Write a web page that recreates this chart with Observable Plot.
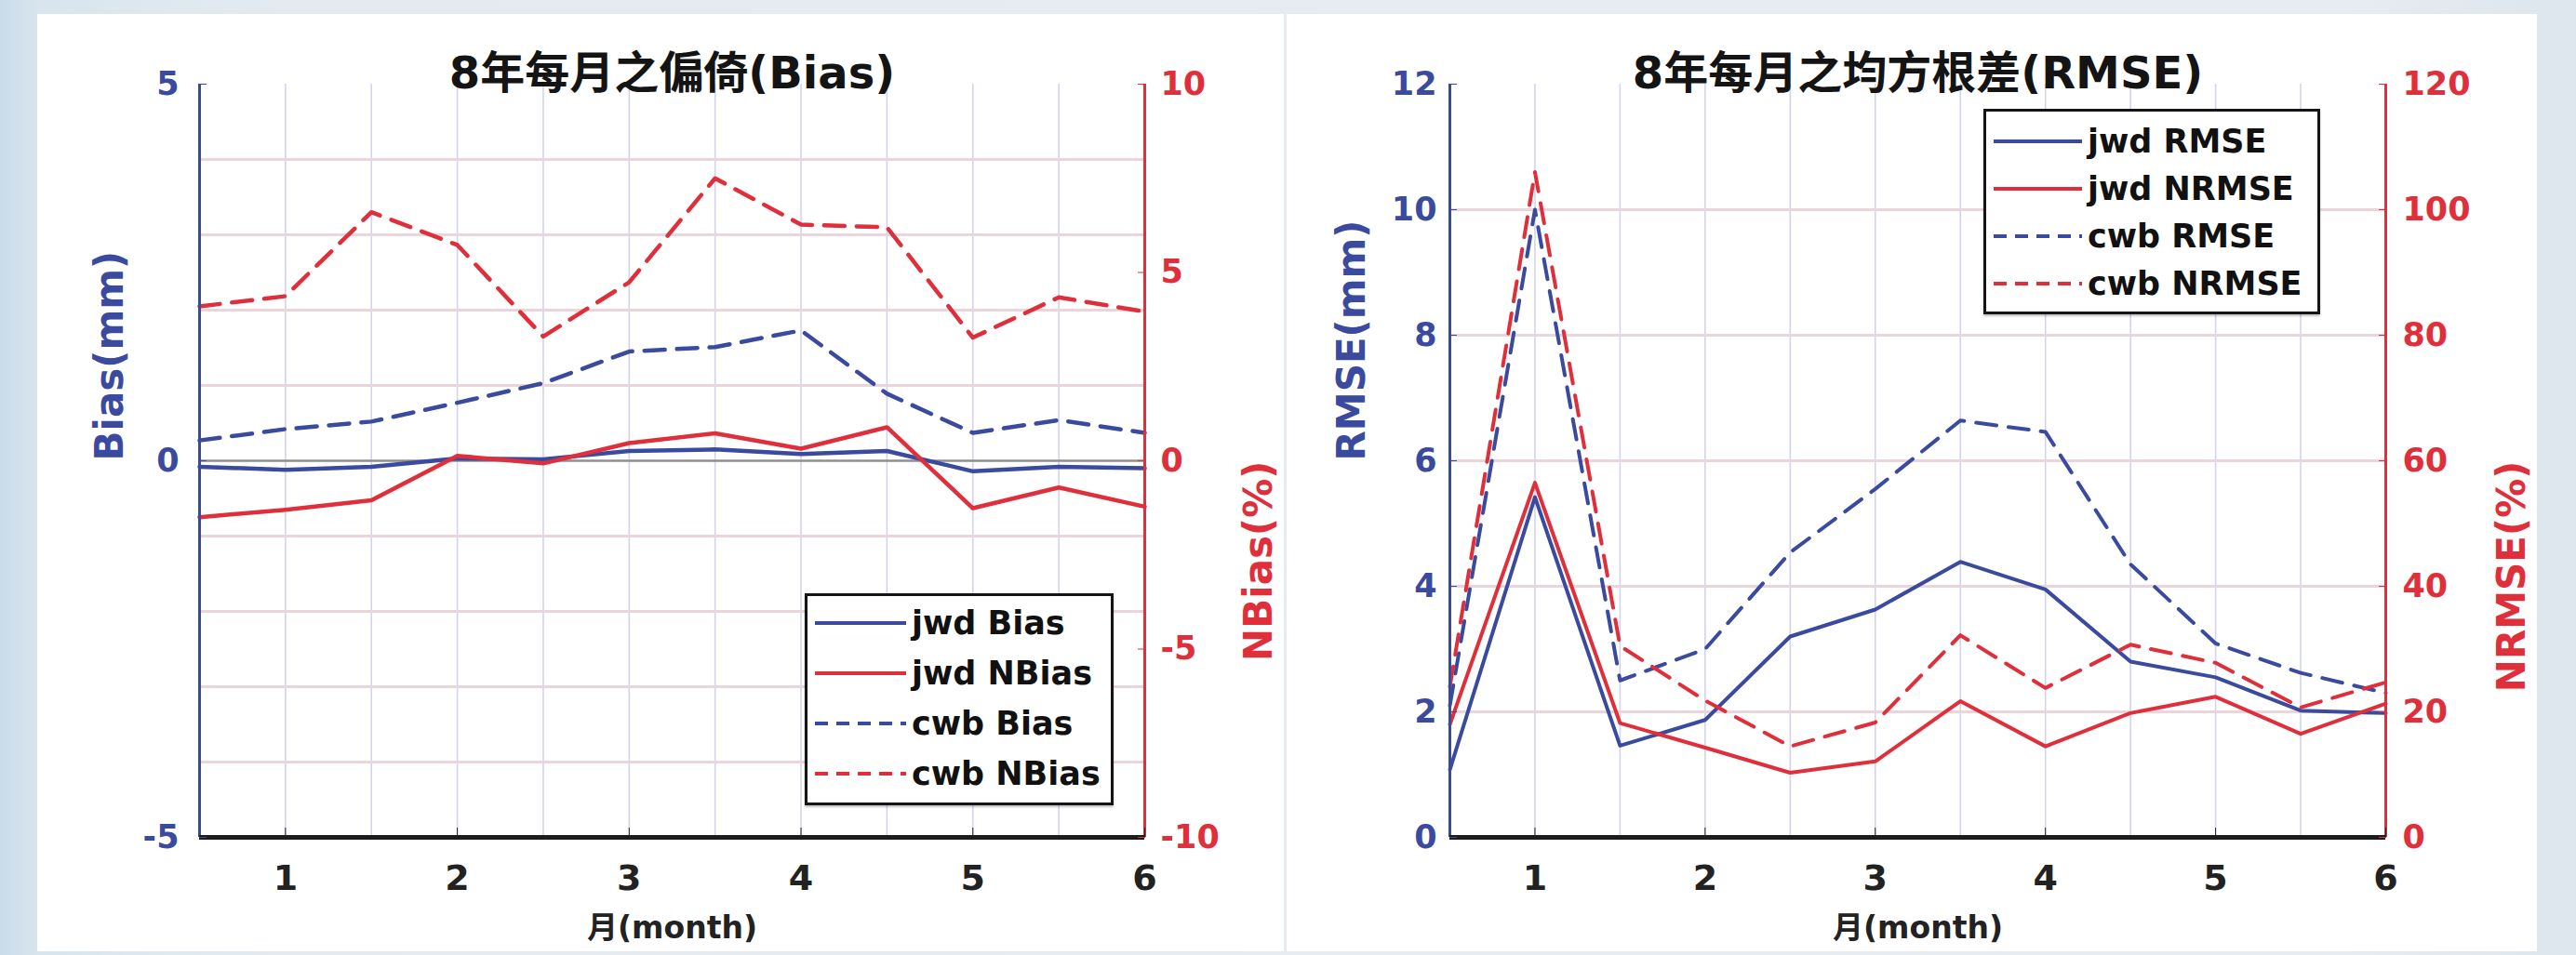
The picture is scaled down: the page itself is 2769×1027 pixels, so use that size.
<!DOCTYPE html>
<html>
<head>
<meta charset="utf-8">
<script src="https://cdn.jsdelivr.net/npm/d3@7"></script>
<script src="https://cdn.jsdelivr.net/npm/@observablehq/plot@0.6"></script>
<style>
html, body { margin: 0; padding: 0; }
body {
  width: 2769px; height: 1027px; position: relative; overflow: hidden;
  background: linear-gradient(90deg, #c9dbe9 0px, #d8e5ee 40px, #e3ebf1 300px, #e6edf2 2500px, #dde6ed 2769px);
  font-family: "DejaVu Sans", "Noto Sans CJK TC", sans-serif; font-weight: bold;
}
.panel { position: absolute; background: #ffffff; top: 15px; height: 1008px; }
.chart { position: absolute; top: 15px; }
.chart svg { max-width: none; }
.legend { position: absolute; border: 3px solid #151515; background: #fff; box-sizing: border-box; box-shadow: 0 2px 2px rgba(0,0,0,0.25); }
.legend .row { position: absolute; left: 8px; display: flex; align-items: center; height: 40px; margin-top: -20px; }
.legend .row span { font-size: 35px; color: #111; margin-left: 6px; white-space: nowrap; font-weight: bold; }
</style>
</head>
<body>
<div class="panel" style="left:40px;width:1340px;"></div>
<div class="panel" style="left:1383px;width:1344px;"></div>
<div id="c1" class="chart" style="left:40px;"></div>
<div id="c2" class="chart" style="left:1383px;"></div>
<div id="l1" class="legend" style="left:865px;top:638px;width:332px;height:228px;"></div>
<div id="l2" class="legend" style="left:2132px;top:117px;width:362px;height:221px;"></div>
<script>
// ---------------- data ----------------
const months = [0.5, 1, 1.5, 2, 2.5, 3, 3.5, 4, 4.5, 5, 5.5, 6];
const monthTicks = [1, 2, 3, 4, 5, 6];

// Chart 1: 8年每月之偏倚(Bias)
const title1 = "8年每月之偏倚(Bias)";
const jwdBias  = [-0.08, -0.12, -0.08, 0.03, 0.02, 0.13, 0.15, 0.09, 0.13, -0.14, -0.08, -0.10];
const jwdNBias = [-1.50, -1.30, -1.05, 0.13, -0.07, 0.47, 0.73, 0.32, 0.89, -1.26, -0.71, -1.22];
const cwbBias  = [0.27, 0.42, 0.52, 0.77, 1.03, 1.45, 1.51, 1.73, 0.89, 0.37, 0.54, 0.37];
const cwbNBias = [4.10, 4.37, 6.60, 5.73, 3.30, 4.74, 7.50, 6.27, 6.20, 3.27, 4.34, 3.96];
const biasTicks = [-5, 0, 5];
const nbiasTicks = [-10, -5, 0, 5, 10];
const biasGrid = [-4, -3, -2, -1, 1, 2, 3, 4];
const legend1 = ["jwd Bias", "jwd NBias", "cwb Bias", "cwb NBias"];

// Chart 2: 8年每月之均方根差(RMSE)
const title2 = "8年每月之均方根差(RMSE)";
const jwdRMSE  = [1.08, 5.42, 1.46, 1.87, 3.20, 3.63, 4.39, 3.95, 2.80, 2.55, 2.02, 1.98];
const jwdNRMSE = [18.0, 56.5, 18.2, 14.3, 10.3, 12.1, 21.7, 14.5, 19.8, 22.4, 16.5, 21.3];
const cwbRMSE  = [2.10, 10.0, 2.50, 3.00, 4.54, 5.55, 6.64, 6.46, 4.35, 3.09, 2.62, 2.30];
const cwbNRMSE = [24.0, 106.0, 30.5, 21.8, 14.5, 18.3, 32.2, 23.8, 30.7, 27.8, 20.7, 24.7];
const rmseTicks = [0, 2, 4, 6, 8, 10, 12];
const nrmseTicks = [0, 20, 40, 60, 80, 100, 120];
const rmseGrid = [2, 4, 6, 8, 10];
const legend2 = ["jwd RMSE", "jwd NRMSE", "cwb RMSE", "cwb NRMSE"];

const xLabel = "月(month)";

// ---------------- style ----------------
const FONT = '"DejaVu Sans", "Noto Sans CJK TC", sans-serif';
const BLUE = "#3a4b9f";
const RED = "#df2f3b";
const DASH = "22,13";
const xGrid = d3.range(1, 6.01, 0.5);
const fmt = d => String(Math.round(d * 100) / 100);   // plain hyphen-minus, no decimals

function chart(o) {
  const ratio = o.ratio;
  return Plot.plot({
    width: o.width, height: 1005,
    marginLeft: o.ml, marginRight: o.mr, marginTop: 75, marginBottom: 120,
    x: {domain: [0.5, 6]},
    y: {domain: o.yDomain},
    style: {fontFamily: FONT, fontWeight: "bold", background: "transparent", overflow: "visible", maxWidth: "none"},
    marks: [
      Plot.gridX({ticks: xGrid, stroke: "#d3d3ee", strokeOpacity: 1, strokeWidth: 1.6}),
      Plot.gridY({ticks: o.grid, stroke: "#ecd5da", strokeOpacity: 1, strokeWidth: 3}),
      o.zero ? Plot.ruleY([0], {stroke: "#8f8f8f", strokeWidth: 2.5}) : null,
      Plot.line(months, {x: months, y: o.s1, stroke: BLUE, strokeWidth: o.lw}),
      Plot.line(months, {x: months, y: o.s2.map(v => v / ratio), stroke: RED, strokeWidth: o.lw}),
      Plot.line(months, {x: months, y: o.s3, stroke: BLUE, strokeWidth: o.lw, strokeDasharray: DASH}),
      Plot.line(months, {x: months, y: o.s4.map(v => v / ratio), stroke: RED, strokeWidth: o.lw, strokeDasharray: DASH}),
      Plot.ruleX([0.5], {stroke: BLUE, strokeWidth: 3}),
      Plot.ruleX([6], {stroke: RED, strokeWidth: 3}),
      Plot.ruleY([o.yDomain[0]], {stroke: "#1c1c1c", strokeWidth: 5}),
      Plot.axisY({anchor: "left", ticks: o.leftTicks, tickFormat: fmt, tickSize: -8, tickPadding: o.lp, color: BLUE, fontSize: 35, fontWeight: "bold", label: null}),
      Plot.axisY({anchor: "right", ticks: o.rightTicks.map(v => v / ratio), tickFormat: d => fmt(d * ratio), tickSize: -8, tickPadding: o.rp, color: RED, fontSize: 35, fontWeight: "bold", label: null}),
      Plot.axisX({ticks: monthTicks, tickFormat: fmt, tickSize: -10, tickPadding: 40, color: "#222", fontSize: 38, fontWeight: "bold", label: null}),
      Plot.text([o.title], {text: d => d, frameAnchor: "top", dy: -30, fontSize: 48, fontWeight: "bold", fill: "#141414"}),
      Plot.text([xLabel], {text: d => d, frameAnchor: "bottom", dy: 108, fontSize: 33, fontWeight: "bold", fill: "#222"}),
      Plot.text([o.yl], {text: d => d, frameAnchor: "left", dx: o.ylx, rotate: -90, fontSize: 42, fontWeight: "bold", fill: BLUE}),
      Plot.text([o.yr], {text: d => d, frameAnchor: "right", dx: o.yrx, rotate: -90, fontSize: 42, fontWeight: "bold", fill: RED})
    ]
  });
}

document.getElementById("c1").append(chart({
  width: 1340, ml: 174, mr: 150, yDomain: [-5, 5], ratio: 2, grid: biasGrid, zero: true, lw: 4.5,
  s1: jwdBias, s2: jwdNBias, s3: cwbBias, s4: cwbNBias,
  leftTicks: biasTicks, rightTicks: nbiasTicks, lp: 30, rp: 25,
  title: title1, yl: "Bias(mm)", yr: "NBias(%)", ylx: -96, yrx: 123
}));

document.getElementById("c2").append(chart({
  width: 1344, ml: 175, mr: 163, yDomain: [0, 12], ratio: 10, grid: rmseGrid, zero: false, lw: 4,
  s1: jwdRMSE, s2: jwdNRMSE, s3: cwbRMSE, s4: cwbNRMSE,
  leftTicks: rmseTicks, rightTicks: nrmseTicks, lp: 22, rp: 26,
  title: title2, yl: "RMSE(mm)", yr: "NRMSE(%)", ylx: -105, yrx: 136
}));

function legend(id, labels, first, step, sampleW) {
  const el = document.getElementById(id);
  const styles = [[BLUE, null], [RED, null], [BLUE, "14,9"], [RED, "14,9"]];
  labels.forEach((lab, i) => {
    const row = document.createElement("div");
    row.className = "row";
    row.style.top = (first + i * step) + "px";
    const [c, dash] = styles[i];
    row.innerHTML = `<svg width="${sampleW}" height="10"><line x1="0" y1="5" x2="${sampleW}" y2="5" stroke="${c}" stroke-width="4" ${dash ? `stroke-dasharray="${dash}"` : ""}/></svg><span>${lab}</span>`;
    el.append(row);
  });
}
legend("l1", legend1, 29, 54, 98);
legend("l2", legend2, 32, 51, 95);
</script>
</body>
</html>
